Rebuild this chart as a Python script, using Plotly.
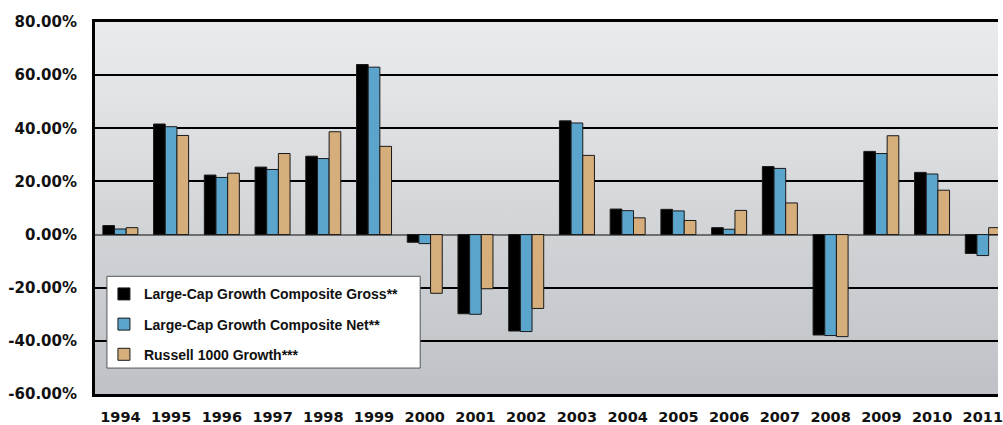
import base64
import plotly.graph_objects as go

years = ["1994", "1995", "1996", "1997", "1998", "1999", "2000", "2001", "2002",
         "2003", "2004", "2005", "2006", "2007", "2008", "2009", "2010", "2011"]
gross = [3.4, 41.6, 22.4, 25.4, 29.5, 64.0, -2.9, -29.8, -36.3,
         42.8, 9.6, 9.5, 2.6, 25.6, -37.8, 31.3, 23.4, -7.1]
net = [2.1, 40.6, 21.5, 24.5, 28.6, 63.0, -3.4, -30.0, -36.5,
       42.0, 9.0, 8.9, 2.0, 24.9, -38.0, 30.5, 22.8, -7.9]
russell = [2.6, 37.3, 23.1, 30.5, 38.7, 33.2, -22.1, -20.4, -27.8,
           29.8, 6.3, 5.3, 9.1, 11.9, -38.4, 37.2, 16.7, 2.6]

series_names = ["Large-Cap Growth Composite Gross**",
                "Large-Cap Growth Composite Net**",
                "Russell 1000 Growth***"]
series_colors = ["#000000", "#5ba4cc", "#d5ae7c"]

y_ticks = [-60, -40, -20, 0, 20, 40, 60, 80]
y_ticktext = ["-60.00%", "-40.00%", "-20.00%", "0.00%", "20.00%", "40.00%", "60.00%", "80.00%"]

W, H = 1003, 425
L, T, B = 95, 22, 30
plot_w = W - L
plot_h = H - T - B

fig = go.Figure()
for i, (name, vals, col) in enumerate(zip(series_names, [gross, net, russell], series_colors)):
    fig.add_trace(go.Bar(
        x=years, y=vals, name=name, legendgroup=f"g{i}",
        marker=dict(color=col, line=dict(color="#1a1a1a", width=1)),
    ))

svg = ('<svg xmlns="http://www.w3.org/2000/svg" width="100" height="100" preserveAspectRatio="none">'
       '<defs><linearGradient id="g" x1="0" y1="0" x2="0" y2="1">'
       '<stop offset="0" stop-color="#eaebed"/><stop offset="1" stop-color="#bec2c6"/>'
       '</linearGradient></defs><rect width="100" height="100" fill="url(#g)"/></svg>')
src = "data:image/svg+xml;base64," + base64.b64encode(svg.encode()).decode()

fig.update_layout(
    width=W, height=H,
    margin=dict(l=L, r=0, t=T, b=B),
    paper_bgcolor="white",
    plot_bgcolor="rgba(0,0,0,0)",
    barmode="group", bargap=0.31, bargroupgap=0.0,
    font=dict(family="DejaVu Sans", color="#111111"),
    images=[dict(source=src, xref="paper", yref="paper", x=0, y=1, sizex=1, sizey=1,
                 xanchor="left", yanchor="top", sizing="stretch", layer="below")],
    shapes=[dict(type="rect", xref="paper", yref="paper",
                 x0=(107 - L) / plot_w, x1=(422 - L) / plot_w,
                 y0=(H - B - 369) / plot_h, y1=(H - B - 277) / plot_h,
                 fillcolor="white", line=dict(color="#555555", width=1), layer="above")],
    legend=dict(x=(104 - L) / plot_w, y=(H - B - 279) / plot_h, xanchor="left", yanchor="top",
                bgcolor="rgba(0,0,0,0)", borderwidth=0, traceorder="grouped",
                tracegroupgap=9,
                font=dict(family="Liberation Sans", size=14, color="#111111", weight="bold")),
    showlegend=True,
)
fig.update_xaxes(
    range=[-0.5, 17.3], showgrid=False, showline=True, mirror=True,
    linecolor="black", linewidth=3, ticks="", ticklabelstandoff=8,
    tickfont=dict(family="DejaVu Sans", size=14.5, color="#111111", weight="bold"),
)
fig.update_yaxes(
    range=[-60, 80], tickvals=y_ticks, ticktext=y_ticktext,
    showgrid=True, gridcolor="black", gridwidth=2,
    zeroline=True, zerolinecolor="#6e6e6e", zerolinewidth=2,
    showline=True, mirror=False, linecolor="black", linewidth=3,
    ticks="", ticklabelstandoff=12,
    tickfont=dict(family="DejaVu Sans", size=15, color="#111111", weight="bold"),
)

fig.write_html("out.html")
